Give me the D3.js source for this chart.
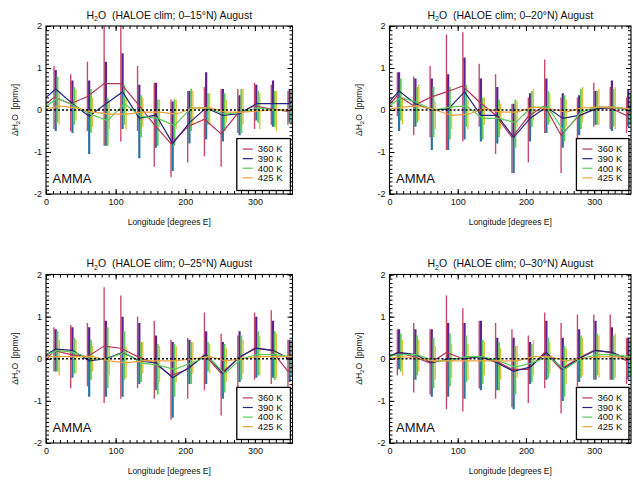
<!DOCTYPE html>
<html>
<head>
<meta charset="utf-8">
<script src="https://cdn.jsdelivr.net/npm/d3@7/dist/d3.min.js"></script>
<style>
  body { margin: 0; background: #fff; }
  svg { display: block; }
  text { font-family: "Liberation Sans", Arial, Helvetica, sans-serif; fill: #111; white-space: pre; }
</style>
</head>
<body>
<div id="chart"></div>
<script>
// longitude bins (degrees E) and the four theta levels
const lons = [12, 36, 60, 84, 108, 132, 156, 180, 204, 228, 252, 276, 300, 324, 348];
const levels = ['360 K', '390 K', '400 K', '425 K'];
const bands = ['0–15°N', '0–20°N', '0–25°N', '0–30°N'];
const xTicks = [0, 100, 200, 300];
const yTicks = [-2, -1, 0, 1, 2];

// 0-15N : mean, lower and upper end of each bar (rows = 360, 390, 400, 425 K)
const mean15 = [
    [0.30, 0.15, 0.32, 0.63, 0.63, 0.15, -0.35, -0.80, -0.40, -0.22, -0.57, -0.08, 0.10, 0.02, -0.03],
    [0.50, 0.15, -0.15, 0.15, 0.43, -0.20, -0.12, -0.80, -0.30, 0.05, -0.13, -0.09, 0.15, 0.15, 0.15],
    [0.28, 0.10, -0.10, -0.25, 0.15, -0.15, -0.20, -0.37, 0.05, 0.05, -0.10, -0.05, 0.05, 0.00, 0.00],
    [0.10, 0.05, -0.05, -0.10, -0.10, -0.05, -0.05, -0.10, 0.05, 0.05, -0.05, -0.05, -0.02, 0.00, 0.00]
];
const lo15 = [
    [-0.45, -0.50, -0.50, -0.85, -0.75, -0.50, -1.35, -1.60, -1.25, -1.10, -1.35, -0.55, -0.45, -0.35, -0.35],
    [-0.50, -0.55, -1.05, -0.85, -0.45, -1.15, -0.90, -1.45, -0.80, -0.70, -0.75, -0.60, -0.25, -0.40, -0.30],
    [-0.30, -0.35, -0.55, -0.85, -0.35, -0.65, -0.85, -0.85, -0.50, -0.35, -0.50, -0.55, -0.30, -0.40, -0.35],
    [-0.35, -0.25, -0.40, -0.45, -0.45, -0.40, -0.40, -0.45, -0.35, -0.35, -0.30, -0.35, -0.45, -0.50, -0.40]
];
const hi15 = [
    [1.05, 0.85, 1.15, 2.30, 2.30, 1.05, 0.65, 0.25, 0.45, 0.55, 0.50, 0.50, 0.65, 0.60, 0.45],
    [0.95, 0.70, 0.70, 1.15, 1.35, 0.60, 0.65, 0.20, 0.45, 0.90, 0.50, 0.35, 0.60, 0.70, 0.50],
    [0.80, 0.55, 0.50, 0.30, 0.60, 0.35, 0.25, 0.25, 0.50, 0.40, 0.40, 0.50, 0.45, 0.45, 0.50],
    [0.45, 0.50, 0.30, 0.20, 0.30, 0.30, 0.25, 0.25, 0.45, 0.40, 0.25, 0.50, 0.40, 0.45, 0.35]
];

// 0-20N
const mean20 = [
    [0.35, 0.10, 0.30, 0.43, 0.57, 0.19, -0.12, -0.65, -0.15, 0.10, -0.60, -0.17, 0.03, 0.05, -0.13],
    [0.45, 0.15, 0.00, 0.02, 0.43, -0.13, -0.13, -0.65, -0.20, 0.07, -0.20, -0.13, 0.02, 0.07, 0.02],
    [0.30, 0.18, 0.00, 0.07, 0.10, -0.20, -0.20, -0.30, 0.07, 0.07, -0.53, -0.05, 0.07, 0.07, 0.00],
    [0.07, 0.10, 0.00, -0.13, -0.10, 0.03, -0.05, -0.05, 0.07, 0.03, -0.05, 0.05, 0.07, 0.07, 0.02]
];
const lo20 = [
    [-0.15, -0.60, -0.65, -0.95, -0.75, -0.40, -1.05, -1.50, -1.25, -0.55, -1.50, -0.90, -0.40, -0.45, -0.55],
    [-0.50, -0.40, -0.95, -0.95, -0.70, -0.75, -0.80, -1.50, -0.75, -0.55, -0.90, -0.60, -0.35, -0.50, -0.40],
    [-0.25, -0.30, -0.65, -0.70, -0.40, -0.70, -0.65, -0.90, -0.40, -0.35, -0.75, -0.45, -0.35, -0.40, -0.35],
    [-0.35, -0.25, -0.45, -0.45, -0.45, -0.35, -0.45, -0.40, -0.25, -0.30, -0.40, -0.30, -0.35, -0.45, -0.40]
];
const hi20 = [
    [0.90, 0.80, 1.05, 1.80, 1.85, 1.10, 0.85, 0.15, 0.30, 1.20, 0.30, 0.30, 0.65, 0.55, 0.30],
    [0.90, 0.75, 0.75, 0.85, 1.25, 0.75, 0.55, 0.15, 0.40, 0.75, 0.40, 0.35, 0.45, 0.70, 0.50],
    [0.75, 0.55, 0.55, 0.55, 0.60, 0.30, 0.25, 0.25, 0.45, 0.45, 0.35, 0.50, 0.45, 0.50, 0.40],
    [0.30, 0.60, 0.20, 0.15, 0.25, 0.30, 0.15, 0.20, 0.50, 0.40, 0.25, 0.55, 0.50, 0.55, 0.40]
];

// 0-25N
const mean25 = [
    [0.20, 0.10, 0.05, 0.30, 0.25, 0.05, -0.10, -0.40, -0.25, 0.10, -0.35, 0.00, 0.25, 0.20, -0.30],
    [0.23, 0.20, -0.05, 0.00, 0.15, -0.05, -0.10, -0.45, -0.20, 0.10, -0.35, 0.05, 0.25, 0.20, 0.00],
    [0.20, 0.15, 0.00, 0.00, 0.15, -0.10, -0.15, -0.25, -0.10, 0.05, -0.35, 0.00, 0.10, 0.10, 0.05],
    [0.05, 0.05, 0.05, -0.05, -0.10, -0.05, -0.05, -0.05, 0.00, 0.05, -0.05, 0.00, 0.05, 0.05, 0.05]
];
const lo25 = [
    [-0.30, -0.70, -0.65, -1.05, -0.95, -0.70, -0.95, -1.45, -0.95, -0.75, -1.35, -0.85, -0.50, -0.60, -0.80],
    [-0.30, -0.45, -0.90, -0.90, -0.90, -0.60, -0.75, -1.40, -0.60, -0.60, -0.95, -0.55, -0.45, -0.45, -0.55],
    [-0.30, -0.35, -0.50, -0.70, -0.50, -0.55, -0.85, -0.90, -0.60, -0.30, -0.80, -0.50, -0.40, -0.50, -0.40],
    [-0.40, -0.35, -0.30, -0.40, -0.45, -0.35, -0.55, -0.55, -0.35, -0.35, -0.55, -0.35, -0.40, -0.45, -0.35]
];
const hi25 = [
    [0.75, 0.80, 0.85, 1.70, 1.50, 1.00, 0.90, 0.45, 0.50, 1.10, 0.60, 0.55, 1.10, 1.15, 0.45],
    [0.70, 0.75, 0.75, 0.90, 1.00, 0.85, 0.55, 0.40, 0.45, 0.65, 0.40, 0.65, 1.00, 0.90, 0.45],
    [0.65, 0.50, 0.45, 0.75, 0.65, 0.40, 0.35, 0.35, 0.40, 0.40, 0.35, 0.55, 0.65, 0.65, 0.45],
    [0.45, 0.45, 0.30, 0.30, 0.30, 0.40, 0.30, 0.30, 0.40, 0.35, 0.25, 0.45, 0.55, 0.60, 0.40]
];

// 0-30N
const mean30 = [
    [0.15, 0.05, -0.10, 0.15, 0.00, 0.05, -0.05, -0.25, -0.25, 0.15, -0.25, 0.00, 0.20, 0.15, -0.05],
    [0.15, 0.10, -0.10, 0.00, 0.00, 0.05, -0.10, -0.30, -0.20, 0.15, -0.25, 0.00, 0.20, 0.15, 0.00],
    [0.10, 0.10, -0.05, -0.05, 0.05, 0.05, -0.05, -0.20, -0.10, 0.05, -0.25, 0.00, 0.10, 0.10, 0.05],
    [0.05, 0.00, -0.05, -0.05, -0.05, -0.05, -0.05, -0.05, 0.05, 0.05, -0.05, 0.00, 0.05, 0.05, 0.00]
];
const lo30 = [
    [-0.40, -0.80, -0.85, -1.20, -1.25, -0.70, -0.95, -1.15, -1.05, -0.70, -1.30, -0.65, -0.50, -0.50, -0.60],
    [-0.25, -0.50, -0.90, -0.90, -0.95, -0.75, -0.75, -1.20, -0.60, -0.50, -1.00, -0.55, -0.50, -0.50, -0.50],
    [-0.30, -0.40, -0.70, -0.65, -0.55, -0.60, -0.75, -0.85, -0.55, -0.45, -0.90, -0.45, -0.40, -0.50, -0.40],
    [-0.40, -0.30, -0.50, -0.45, -0.50, -0.40, -0.50, -0.45, -0.40, -0.35, -0.60, -0.40, -0.45, -0.45, -0.35]
];
const hi30 = [
    [0.70, 0.85, 0.70, 1.50, 1.20, 0.90, 0.85, 0.70, 0.55, 1.10, 0.85, 1.05, 1.05, 1.05, 0.50],
    [0.70, 0.70, 0.70, 0.85, 0.85, 0.90, 0.50, 0.50, 0.40, 0.90, 0.50, 0.70, 0.90, 0.75, 0.50],
    [0.60, 0.55, 0.50, 0.60, 0.55, 0.45, 0.40, 0.30, 0.35, 0.50, 0.30, 0.55, 0.60, 0.55, 0.45],
    [0.45, 0.45, 0.30, 0.35, 0.35, 0.40, 0.25, 0.30, 0.45, 0.40, 0.25, 0.50, 0.55, 0.60, 0.45]
];

const panelData = [
    {mean: mean15, lo: lo15, hi: hi15},
    {mean: mean20, lo: lo20, hi: hi20},
    {mean: mean25, lo: lo25, hi: hi25},
    {mean: mean30, lo: lo30, hi: hi30}
];

// styles per level
const lineColors = ['#b4365a', '#26267c', '#58cc58', '#eba23c'];
const barColors = ['#c94a6a', '#5a2290', '#5ccc58', '#e3c040'];
const barLowColors = ['#c94a6a', '#2f74a0', '#5ccc58', '#e3c040'];
const barWidths = [1.4, 2.2, 1.9, 1.4];
const lonOffset = [-0.5, 2, 4.5, 7];

// plot frames in page pixels
const frames = [
    {x: [46, 292.5], y: [194, 26]},
    {x: [389.5, 631], y: [194, 26]},
    {x: [46, 292.5], y: [443, 274.5]},
    {x: [389.5, 631], y: [443, 274.5]}
];

const width = 633;
const height = 485;

const svg = d3.select('#chart')
    .append('svg')
        .attr('width', width)
        .attr('height', height);

const drawPanel = (frame, data, band, idx) => {
    const x = d3.scaleLinear().domain([0, 354]).range(frame.x);
    const y = d3.scaleLinear().domain([-2, 2]).range(frame.y);
    const [x0, x1] = frame.x;
    const [yb, yt] = frame.y;
    const g = svg.append('g');

    const clipId = `clip-${idx}`;
    g.append('clipPath')
        .attr('id', clipId)
        .append('rect')
            .attr('x', x0)
            .attr('y', yt)
            .attr('width', x1 - x0)
            .attr('height', yb - yt);

    const plot = g.append('g').attr('clip-path', `url(#${clipId})`);

    // error bars, split at the mean
    levels.forEach((lev, s) => {
        const bars = plot.append('g');
        lons.forEach((lon, i) => {
            const bx = x(lon + lonOffset[s]);
            bars.append('line')
                .attr('x1', bx).attr('x2', bx)
                .attr('y1', y(data.mean[s][i])).attr('y2', y(data.hi[s][i]))
                .attr('stroke', barColors[s])
                .attr('stroke-width', barWidths[s]);
            bars.append('line')
                .attr('x1', bx).attr('x2', bx)
                .attr('y1', y(data.lo[s][i])).attr('y2', y(data.mean[s][i]))
                .attr('stroke', barLowColors[s])
                .attr('stroke-width', barWidths[s]);
        });
    });

    // mean lines, wrapped around in longitude
    const line = d3.line().x(d => x(d[0])).y(d => y(d[1]));
    levels.forEach((lev, s) => {
        const n = lons.length;
        const pts = lons.map((lon, i) => [lon + lonOffset[s], data.mean[s][i]]);
        pts.unshift([lons[n - 1] - 360 + lonOffset[s], data.mean[s][n - 1]]);
        pts.push([lons[0] + 360 + lonOffset[s], data.mean[s][0]]);
        plot.append('path')
            .attr('d', line(pts))
            .attr('fill', 'none')
            .attr('stroke', lineColors[s])
            .attr('stroke-width', 1.2);
    });

    // zero line
    g.append('line')
        .attr('x1', x0).attr('x2', x1)
        .attr('y1', y(0)).attr('y2', y(0))
        .attr('stroke', '#000')
        .attr('stroke-width', 1.3)
        .attr('stroke-dasharray', '2 2');

    // axes: major + minor ticks on all four sides, pointing inward
    const minorX = d3.range(0, 355, 10);
    const minorY = d3.range(-2, 2.001, 0.1);
    const axes = [
        [d3.axisBottom(x).tickValues(xTicks).tickSize(-5).tickPadding(5).tickFormat(d3.format('d')), `translate(0,${yb})`],
        [d3.axisBottom(x).tickValues(minorX).tickSize(-3).tickFormat(''), `translate(0,${yb})`],
        [d3.axisTop(x).tickValues(xTicks).tickSize(-5).tickFormat(''), `translate(0,${yt})`],
        [d3.axisTop(x).tickValues(minorX).tickSize(-3).tickFormat(''), `translate(0,${yt})`],
        [d3.axisLeft(y).tickValues(yTicks).tickSize(-5).tickPadding(4).tickFormat(d => String(d)), `translate(${x0},0)`],
        [d3.axisLeft(y).tickValues(minorY).tickSize(-3).tickFormat(''), `translate(${x0},0)`],
        [d3.axisRight(y).tickValues(yTicks).tickSize(-5).tickFormat(''), `translate(${x1},0)`],
        [d3.axisRight(y).tickValues(minorY).tickSize(-3).tickFormat(''), `translate(${x1},0)`]
    ];
    axes.forEach(([ax, tr]) => {
        const a = g.append('g').attr('transform', tr).call(ax);
        a.select('.domain').remove();
        a.selectAll('.tick line').attr('stroke', '#000').attr('stroke-width', 1);
        a.selectAll('.tick text')
            .attr('fill', '#111')
            .style('font-size', '9px')
            .style('font-family', '"Liberation Sans", Arial, sans-serif');
    });
    g.append('rect')
        .attr('x', x0).attr('y', yt)
        .attr('width', x1 - x0).attr('height', yb - yt)
        .attr('fill', 'none')
        .attr('stroke', '#000')
        .attr('stroke-width', 1.1);

    // legend box
    const lx0 = x(274);
    const lx1 = x(351);
    const ly0 = yt + (yb - yt) * 0.67;
    const ly1 = yb - 3.5;
    g.append('rect')
        .attr('x', lx0).attr('y', ly0)
        .attr('width', lx1 - lx0).attr('height', ly1 - ly0)
        .attr('fill', '#fff')
        .attr('stroke', '#000')
        .attr('stroke-width', 1.3);
    levels.forEach((lev, s) => {
        const ly = ly0 + 10.5 + s * 9.6;
        g.append('line')
            .attr('x1', lx0 + 6).attr('x2', lx0 + 16)
            .attr('y1', ly).attr('y2', ly)
            .attr('stroke', lineColors[s])
            .attr('stroke-width', 1.2);
        g.append('text')
            .attr('x', lx0 + 21)
            .attr('y', ly + 3.3)
            .style('font-size', '9.5px')
            .text(lev);
    });

    // AMMA label
    g.append('text')
        .attr('x', x0 + 6.5)
        .attr('y', yb - 11.5)
        .style('font-size', '13px')
        .text('AMMA');

    // title with subscript
    const cx = (x0 + x1) / 2;
    const title = g.append('text')
        .attr('x', cx)
        .attr('y', yt - 7.5)
        .attr('text-anchor', 'middle')
        .style('font-size', '10.5px');
    title.append('tspan').text('H');
    title.append('tspan').attr('dy', 2.5).style('font-size', '7px').text('2');
    title.append('tspan').attr('dy', -2.5).text(`O  (HALOE clim; ${band}) August`);

    // x axis title
    g.append('text')
        .attr('x', cx)
        .attr('y', yb + 30.5)
        .attr('text-anchor', 'middle')
        .style('font-size', '8.5px')
        .text('Longitude [degrees E]');

    // y axis title
    const ym = (yb + yt) / 2;
    const yl = g.append('text')
        .attr('transform', `translate(${x0 - 28},${ym}) rotate(-90)`)
        .attr('text-anchor', 'middle')
        .style('font-size', '8.5px');
    yl.append('tspan').text('ΔH');
    yl.append('tspan').attr('dy', 2).style('font-size', '6px').text('2');
    yl.append('tspan').attr('dy', -2).text('O  [ppmv]');
};

frames.forEach((frame, i) => drawPanel(frame, panelData[i], bands[i], i));
</script>
</body>
</html>
